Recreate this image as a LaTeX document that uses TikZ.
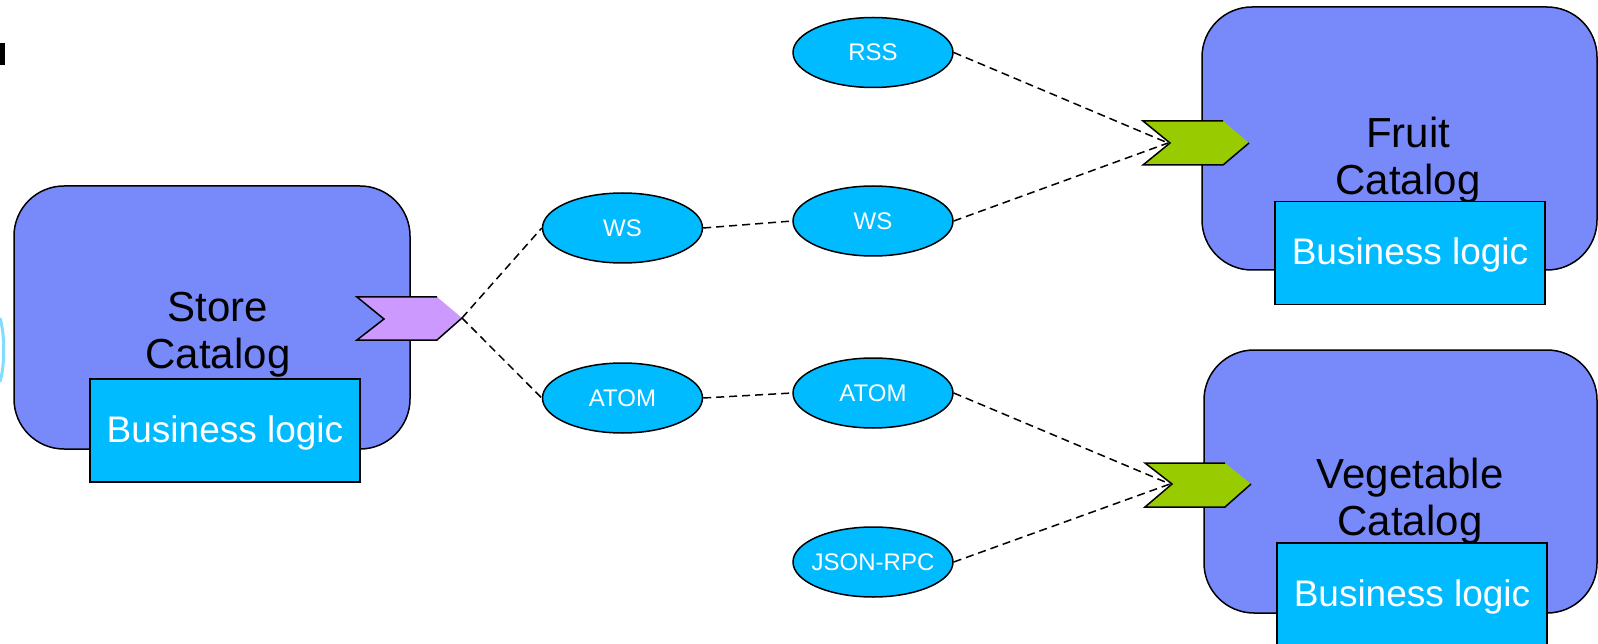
\documentclass[tikz,border=0pt]{standalone}
\usepackage{fontspec}
\setmainfont{Liberation Sans}
\usetikzlibrary{shapes.geometric}
\definecolor{boxblue}{RGB}{120,137,250}
\definecolor{cyanfill}{RGB}{0,187,255}
\definecolor{lilac}{RGB}{204,153,255}
\definecolor{limegreen}{RGB}{153,204,0}
\tikzset{
  comp/.style={draw=black, line width=1.5pt, fill=boxblue, rounded corners=50pt, inner sep=0pt},
  blbox/.style={draw=black, line width=1.5pt, fill=cyanfill, text=white, inner sep=0pt,
    minimum width=270pt, minimum height=103pt, text depth=3pt, font=\fontsize{37}{40}\selectfont},
  biglabel/.style={align=center, text=black, inner sep=0pt, font=\fontsize{42}{47}\selectfont},
  proto/.style={ellipse, draw=black, line width=1.5pt, fill=cyanfill, text=white, inner sep=0pt,
    minimum width=160pt, minimum height=70pt, font=\fontsize{24}{26}\selectfont},
  chevline/.style={draw=black, line width=1.5pt, line join=miter},
  link/.style={draw=black, line width=1.5pt, dash pattern=on 8pt off 5pt}
}
\begin{document}
\begin{tikzpicture}[x=1pt,y=-1pt]
\useasboundingbox (0,0) rectangle (1598,644);
% edge fragments
\fill[black] (0,43) rectangle (5,65);
\draw[cyanfill!50, line width=3pt] (0,318) .. controls (5,335) and (5,365) .. (0,382);

% Store Catalog
\node[comp, minimum width=396pt, minimum height=263pt] (store) at (212,317.5) {};
\node[biglabel] (storelbl) at (218,335) {Store\\Catalog};
\fill[lilac] (357,297) -- (437,297) -- (462,318) -- (437,340) -- (357,340) -- (384,319) -- cycle;
\draw[chevline] (437,297) -- (357,297) -- (384,319) -- (357,340) -- (437,340) -- (462,318);
\coordinate (ptip) at (462,318);
\node[blbox] (storebl) at (225,430.5) {Business logic};

% Fruit Catalog
\node[comp, minimum width=395pt, minimum height=263pt] (fruit) at (1399.5,138.5) {};
\node[biglabel] (fruitlbl) at (1408,160) {Fruit\\Catalog};
\fill[limegreen] (1143,121) -- (1223,121) -- (1249,143) -- (1223,165) -- (1143,165) -- (1170,143) -- cycle;
\draw[chevline] (1223,121) -- (1143,121) -- (1170,143) -- (1143,165) -- (1223,165) -- (1249,143);
\coordinate (gnotchA) at (1168,143);
\node[blbox] (fruitbl) at (1410,253) {Business logic};

% Vegetable Catalog
\node[comp, minimum width=393pt, minimum height=263pt] (veg) at (1400.5,481.5) {};
\node[biglabel] (veglbl) at (1410,501) {Vegetable\\Catalog};
\fill[limegreen] (1145,463) -- (1225,463) -- (1251,484) -- (1225,507) -- (1145,507) -- (1172,484) -- cycle;
\draw[chevline] (1225,463) -- (1145,463) -- (1172,484) -- (1145,507) -- (1225,507) -- (1251,484);
\coordinate (gnotchB) at (1170,484);
\node[blbox] (vegbl) at (1412,594.5) {Business logic};

% protocol ellipses
\node[proto] (rss) at (873,52.5) {RSS};
\node[proto] (wsL) at (622.5,228) {WS};
\node[proto] (wsR) at (873,221) {WS};
\node[proto] (atomL) at (622.5,398) {ATOM};
\node[proto] (atomR) at (873,393) {ATOM};
\node[proto] (json) at (873,562) {\makebox[0pt][c]{JSON-RPC}};

% connectors
\draw[link] (ptip) -- (wsL.west);
\draw[link] (ptip) -- (atomL.west);
\draw[link] (wsL.east) -- (wsR.west);
\draw[link] (atomL.east) -- (atomR.west);
\draw[link] (rss.east) -- (gnotchA);
\draw[link] (wsR.east) -- (gnotchA);
\draw[link] (atomR.east) -- (gnotchB);
\draw[link] (json.east) -- (gnotchB);
\end{tikzpicture}
\end{document}
